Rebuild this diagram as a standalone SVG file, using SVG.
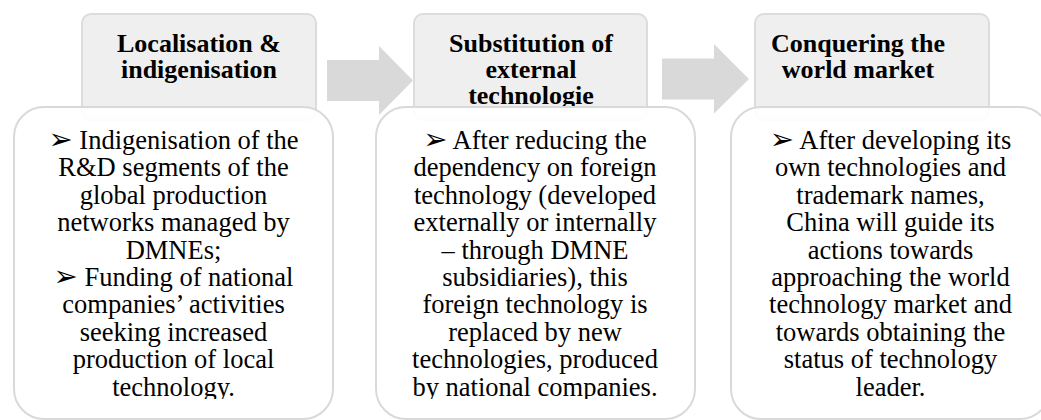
<svg xmlns="http://www.w3.org/2000/svg" width="1041" height="420" viewBox="0 0 1041 420">
<style>
.hd{fill:#efefef;stroke:#dcdcdc;stroke-width:2}
.bd{fill:#ffffff;fill-opacity:0.9;stroke:#d9d9d9;stroke-width:2}
.arr{fill:#d9d9d9;stroke:none}
.tt{font-family:"Liberation Serif","Times New Roman",serif;font-weight:bold;font-size:26px;fill:#000;text-anchor:middle}
.tx{font-family:"Liberation Serif","Times New Roman",serif;font-size:26.5px;fill:#000;text-anchor:middle}
.bl{font-family:"DejaVu Sans",sans-serif;font-weight:bold;font-size:29px}
</style>
<defs>
<clipPath id="clipTop"><rect x="0" y="0" width="1041" height="107"/></clipPath>
<clipPath id="clipBody"><rect x="0" y="107" width="1041" height="292"/></clipPath>
</defs>
<g id="connectors">
<polygon class="arr" points="327,60 379,60 379,46 413,80.5 379,115 379,101 327,101"/>
<polygon class="arr" points="662,58.5 714,58.5 714,44 749,79 714,113.5 714,99.5 662,99.5"/>
</g>
<g id="stage1">
<g id="stage1-header">
<rect class="hd" x="82" y="14" width="234" height="106" rx="9"/>
<g clip-path="url(#clipTop)">
<text class="tt" x="199" y="52">Localisation &amp;</text>
<text class="tt" x="199" y="78">indigenisation</text>
</g>
</g>
<g id="stage1-body">
<rect class="bd" x="14" y="107" width="319" height="312" rx="30"/>
<g clip-path="url(#clipBody)">
<text class="tx" x="173.5" y="149"><tspan class="bl">➢</tspan> Indigenisation of the</text>
<text class="tx" x="173.5" y="176.4">R&amp;D segments of the</text>
<text class="tx" x="173.5" y="203.8">global production</text>
<text class="tx" x="173.5" y="231.2">networks managed by</text>
<text class="tx" x="173.5" y="258.6">DMNEs;</text>
<text class="tx" x="173.5" y="286"><tspan class="bl">➢</tspan> Funding of national</text>
<text class="tx" x="173.5" y="313.4">companies’ activities</text>
<text class="tx" x="173.5" y="340.8">seeking increased</text>
<text class="tx" x="173.5" y="368.2">production of local</text>
<text class="tx" x="173.5" y="395.6">technology.</text>
</g>
</g>
</g>
<g id="stage2">
<g id="stage2-header">
<rect class="hd" x="414" y="14" width="233" height="106" rx="9"/>
<g clip-path="url(#clipTop)">
<text class="tt" x="531" y="52">Substitution of</text>
<text class="tt" x="531" y="78">external</text>
<text class="tt" x="531" y="104">technologie</text>
</g>
</g>
<g id="stage2-body">
<rect class="bd" x="376" y="107" width="319" height="312" rx="30"/>
<g clip-path="url(#clipBody)">
<text class="tx" x="535" y="149"><tspan class="bl">➢</tspan> After reducing the</text>
<text class="tx" x="535" y="176.4">dependency on foreign</text>
<text class="tx" x="535" y="203.8">technology (developed</text>
<text class="tx" x="535" y="231.2">externally or internally</text>
<text class="tx" x="535" y="258.6">– through DMNE</text>
<text class="tx" x="535" y="286">subsidiaries), this</text>
<text class="tx" x="535" y="313.4">foreign technology is</text>
<text class="tx" x="535" y="340.8">replaced by new</text>
<text class="tx" x="535" y="368.2">technologies, produced</text>
<text class="tx" x="535" y="395.6">by national companies.</text>
</g>
</g>
</g>
<g id="stage3">
<g id="stage3-header">
<rect class="hd" x="755" y="14" width="234" height="106" rx="9"/>
<g clip-path="url(#clipTop)">
<text class="tt" x="858" y="52">Conquering the</text>
<text class="tt" x="858" y="78">world market</text>
</g>
</g>
<g id="stage3-body">
<rect class="bd" x="731" y="107" width="319" height="312" rx="30"/>
<g clip-path="url(#clipBody)">
<text class="tx" x="890.5" y="149"><tspan class="bl">➢</tspan> After developing its</text>
<text class="tx" x="890.5" y="176.4">own technologies and</text>
<text class="tx" x="890.5" y="203.8">trademark names,</text>
<text class="tx" x="890.5" y="231.2">China will guide its</text>
<text class="tx" x="890.5" y="258.6">actions towards</text>
<text class="tx" x="890.5" y="286">approaching the world</text>
<text class="tx" x="890.5" y="313.4">technology market and</text>
<text class="tx" x="890.5" y="340.8">towards obtaining the</text>
<text class="tx" x="890.5" y="368.2">status of technology</text>
<text class="tx" x="890.5" y="395.6">leader.</text>
</g>
</g>
</g>
</svg>
